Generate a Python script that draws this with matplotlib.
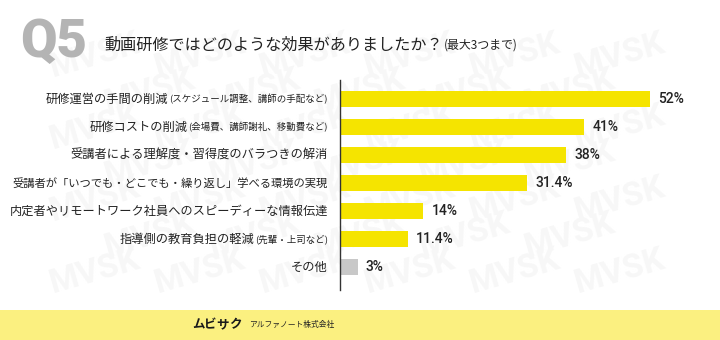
import matplotlib
matplotlib.use("Agg")
import matplotlib.pyplot as plt

plt.rcParams['font.family'] = ['Noto Sans CJK JP', 'DejaVu Sans']

# data
items = [
    "研修運営の手間の削減",
    "研修コストの削減",
    "受講者による理解度・習得度のバラつきの解消",
    "受講者が「いつでも・どこでも・繰り返し」学べる環境の実現",
    "内定者やリモートワーク社員へのスピーディーな情報伝達",
    "指導側の教育負担の軽減",
    "その他",
]
notes = [
    "(スケジュール調整、講師の手配など)",
    "(会場費、講師謝礼、移動費など)",
    "",
    "",
    "",
    "(先輩・上司など)",
    "",
]
values = [52, 41, 38, 31.4, 14, 11.4, 3]
value_labels = ["52%", "41%", "38%", "31.4%", "14%", "11.4%", "3%"]
bar_colors = ["#F5E400"] * 6 + ["#C8C8C8"]

W, H = 720, 340
fig = plt.figure(figsize=(W / 100, H / 100), dpi=100)
fig.patch.set_facecolor("white")

# faint watermark, kept inside the frame
wm = []
for row in range(0, 9):
    for col in range(0, 8):
        x = 45 + col * 105 + (row % 2) * 50
        y = 20 + row * 36
        wm.append(fig.text(x / W, 1 - y / H, "MVSK",
                           fontsize=24, fontweight="bold", color="#F7F7F7",
                           family=["Roboto", "DejaVu Sans"], rotation=16,
                           ha="center", va="center", zorder=-5))

# footer band
fig.patches.append(plt.Rectangle((0, 0), 1, 30 / H, transform=fig.transFigure,
                                 facecolor="#FBF080", edgecolor="none", zorder=-1))
for i, ch in enumerate("ムビサク"):
    fig.text((198 + i * 12.5) / W, 1 - 325 / H, ch, fontsize=9, fontweight="bold",
             color="#1A1A1A", ha="center", va="center")
fig.text(249 / W, 1 - 325 / H, "アルファノート株式会社", fontsize=5.6,
         color="#222222", ha="left", va="center")

# header
fig.text(20 / W, 1 - 42 / H, "Q5", fontsize=38, fontweight="black",
         family=["Roboto", "DejaVu Sans"], color="#B4B4B4",
         ha="left", va="center")
t = fig.text(104 / W, 1 - 45 / H, "動画研修ではどのような効果がありましたか？",
             fontsize=11.6, color="#222222", ha="left", va="center")

ax = fig.add_axes([340 / W, 1 - 290 / H, 360 / W, 210 / H])
ax.set_facecolor("none")
pos = list(range(len(items)))
ax.barh(pos, values, height=0.54, color=bar_colors)
ax.set_xlim(0, 360 / 5.96)
ax.set_ylim(6.82, -0.68)
for s in ["top", "right", "bottom"]:
    ax.spines[s].set_visible(False)
ax.spines["left"].set_color("#333333")
ax.spines["left"].set_linewidth(1)
ax.set_xticks([])
ax.set_yticks([])

for p, v, lab in zip(pos, values, value_labels):
    ax.annotate(lab, (v, p), xytext=(8, 0), textcoords="offset pixels",
                ha="left", va="center", fontsize=10, fontweight="medium",
                family=["Roboto", "DejaVu Sans"], color="#222222")

fig.canvas.draw()
r = fig.canvas.get_renderer()

# drop watermark words that would be cut off at the edges
for w in wm:
    e = w.get_window_extent(r)
    if e.x0 < 0 or e.x1 > W or e.y0 < 30 or e.y1 > H:
        w.remove()

te = t.get_window_extent(r)
fig.text(te.x1 / W + 1 / W, 1 - 45 / H, "(最大3つまで)", fontsize=8.6,
         color="#222222", ha="left", va="center")

for p, main, note in zip(pos, items, notes):
    x_right = -12
    if note:
        nt = ax.annotate(note, (0, p), xytext=(x_right, 0), textcoords="offset pixels",
                         ha="right", va="center", fontsize=6.8, color="#222222")
        ne = nt.get_window_extent(r)
        x_right -= ne.width + 1
    mt = ax.annotate(main, (0, p), xytext=(x_right, 0), textcoords="offset pixels",
                     ha="right", va="center", fontsize=8.8, color="#222222")
    mw = mt.get_window_extent(r).width
    if mw > 318:
        mt.set_fontsize(8.8 * 318 / mw)

fig.savefig("out.png", dpi=100)
plt.close(fig)
